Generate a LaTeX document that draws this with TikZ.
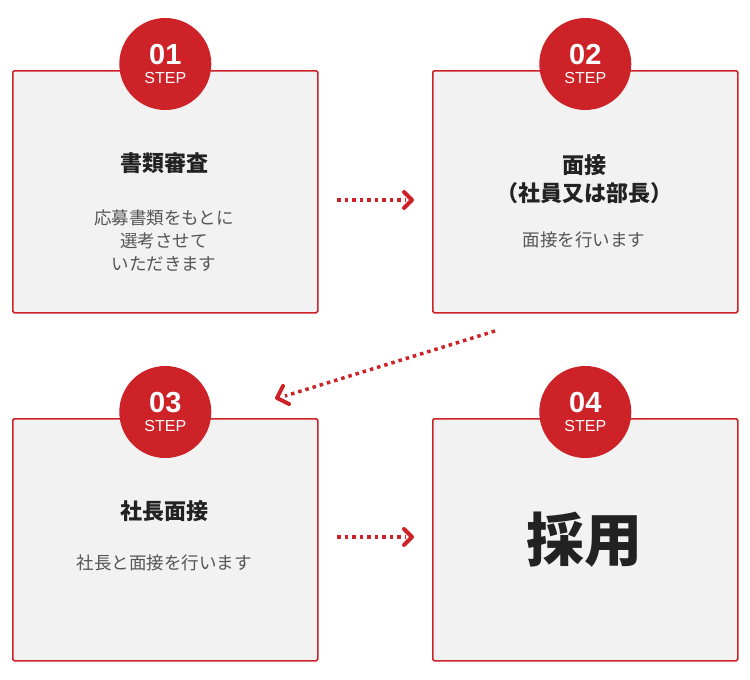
\documentclass[tikz,border=0pt]{standalone}
\usepackage{fontspec}
\setmainfont{Noto Sans CJK JP}
\newfontfamily\numfont{Liberation Sans}
\usetikzlibrary{arrows.meta}
\definecolor{myred}{HTML}{CC2228}
\definecolor{boxbg}{HTML}{F2F2F2}
\definecolor{txt}{HTML}{222222}
\definecolor{sub}{HTML}{555555}
\tikzset{
 card/.style={draw=myred,line width=1.6pt,fill=boxbg,rounded corners=1.5pt,minimum width=305pt,minimum height=242pt,anchor=north west,inner sep=0pt},
 badge/.style={circle,fill=myred,minimum size=92pt,inner sep=0pt},
 steplbl/.style={text=white,font=\numfont\fontsize{16}{16}\selectfont,inner sep=0pt},
 numlbl/.style={text=white,font=\numfont\bfseries\fontsize{29}{29}\selectfont,inner sep=0pt},
 ttl/.style={font=\fontsize{22}{28}\selectfont\bfseries,text=txt,align=center},
 body/.style={font=\fontsize{17.5}{23}\selectfont,text=sub,align=center},
 dotl/.style={myred,line width=3.5pt,dash pattern=on 3.5pt off 4pt},
 tip/.style={myred,line width=4pt,line cap=round,line join=round}
}
\begin{document}
\begin{tikzpicture}[x=1pt,y=-1pt]
\useasboundingbox (0,0) rectangle (750,680);
\node[card] (b1) at (12,70) {};
\node[card] (b2) at (432,70) {};
\node[card] (b3) at (12,418) {};
\node[card] (b4) at (432,418) {};
\foreach \b/\n in {b1/01,b2/02,b3/03,b4/04}{
 \node[badge] (c\n) at ([yshift=6pt]\b.north) {};
 \node[steplbl] (s\n) at ([yshift=-14pt]c\n.center) {STEP};
 \node[numlbl] (n\n) at ([yshift=9pt]c\n.center) {\n};
}
\node[ttl] (t1) at (164,163) {書類審査};
\node[body] (x1) at (164,241) {応募書類をもとに\\選考させて\\いただきます};
\node[ttl] (t2) at (584,179) {面接\\（社員又は部長）};
\node[body] (x2) at (584,240) {面接を行います};
\node[ttl] (t3) at (164,511) {社長面接};
\node[body] (x3) at (164,563) {社長と面接を行います};
\node[font=\fontsize{58}{62}\selectfont\bfseries,text=txt] (t4) at (584,540) {採用};
% arrows
\coordinate (a1s) at (337,200); \coordinate (a1e) at (406,200);
\draw[dotl] (a1s) -- (a1e);
\draw[tip] (404,192) -- (412,200) -- (404,208);
\coordinate (a3s) at (337,537); \coordinate (a3e) at (406,537);
\draw[dotl] (a3s) -- (a3e);
\draw[tip] (404,529) -- (412,537) -- (404,545);
\coordinate (a2s) at (495,331); \coordinate (a2e) at (285,396);
\draw[dotl] (a2s) -- (a2e);
\draw[tip] (283,386) -- (277,398) -- (289,404);
\end{tikzpicture}
\end{document}
